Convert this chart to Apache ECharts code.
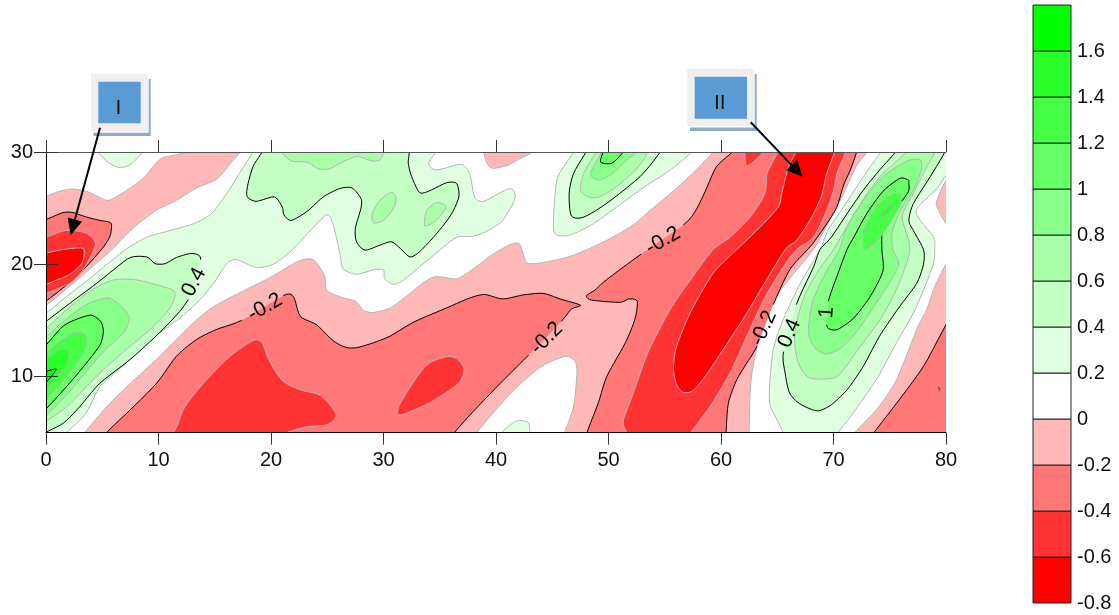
<!DOCTYPE html>
<html>
<head>
<meta charset="utf-8">
<style>html,body{margin:0;padding:0;background:#fff}#c{width:1119px;height:615px}</style>
<script src="https://cdn.jsdelivr.net/npm/echarts@6/dist/echarts.min.js"></script>
</head>
<body>
<div id="c"></div>
<script>
const xTicks = [0,10,20,30,40,50,60,70,80];
const yTicks = [10,20,30];
const barLevels = [-0.8,-0.6,-0.4,-0.2,0,0.2,0.4,0.6,0.8,1,1.2,1.4,1.6,1.8];
const barColors = ['#ff0000','#ff3333','#ff7777','#ffb8b8','#ffffff','#e0ffe0','#c4ffc4','#a8ffa8','#88ff88','#66ff66','#44ff44','#2aff2a','#00ff00'];
const barTicks = [-0.8,-0.6,-0.4,-0.2,0,0.2,0.4,0.6,0.8,1,1.2,1.4,1.6];

// Contour outlines, as [x, y]; null = break in the drawn line (label gap)
const contourN00 = [
 [[-1,26],[0,26.07],[1.2,26.5],[2.4,26.7],[3.6,26.5],[4.7,26],[5.6,25.7],[7.2,26.6],[8.7,27.7],[9.6,28.8],[10.4,29.5],[12.2,29.95],[12.6,31],[18,31],[17.3,30],[16.4,29],[15.2,27.6],[13.4,26.8],[11.6,25.7],[9.8,24.8],[8.2,23.6],[7.2,22.7],[5.84,21.3],[3,18.8],[0,16.3],[-1,15.8]],
 [[3,4],[3.47,5],[5.4,7.3],[7.2,9.1],[9.8,11.5],[12.5,14.2],[14.7,16.1],[17.5,17.6],[19.9,18.8],[22.4,20.25],[23.75,20.4],[24.8,18.9],[24.9,17.7],[26.1,17.1],[27.5,16.7],[28.2,15.9],[29.1,15.7],[30.6,16.1],[32.1,17.2],[33.6,18.4],[34.7,18.9],[36.5,18.7],[38,19.6],[39.8,20.95],[41.4,21.8],[42.1,21.8],[42.5,20.65],[42.9,20.05],[44.5,20.2],[46.9,20.8],[49.8,22.1],[52.2,23.5],[53.7,24.8],[55.5,26.3],[57.5,28.1],[59.3,30],[59.8,31],[73.5,31],[73,30],[72,28.7],[70.9,26.3],[69.8,24.2],[68.2,21.3],[66.4,19.1],[65.1,17.4],[63.8,15.05],[62.9,11.2],[62.6,8.8],[62.5,5],[62.5,4]],
 [[38.7,31],[38.9,30],[39.2,29],[39.7,28.55],[41,28.8],[42.1,29.4],[43.25,30],[44,31]],
 [[71.6,4],[71.9,5],[73.8,7],[75.6,9.7],[77.4,14.2],[78.3,16],[79,18],[80,20],[81,21],[81,4]],
 [[81,28.5],[80,27.5],[79.2,25.7],[79.2,25.1],[80,23.6],[81,22.5]]
];
const holeZero = [
 [[37.5,4],[38.3,5],[39.5,6.46],[41.5,8.7],[43.9,10.8],[46,11.76],[46.9,11.5],[47.2,10.5],[46.9,7.35],[46.1,5],[45.8,4]]
];
const contourN02 = [
 [[-1,24],[0,24],[1.5,24.6],[2.4,24.6],[3.6,24.2],[4.8,23.9],[5.75,23.7],[5.8,23],[5.6,22.3],[5,21.4],[3.6,19.8],[2.4,18.6],[0,16.7],[-1,16]],
 [[5,4],[5.4,5],[7.47,7],[9.84,9.4],[11.6,11.8],[13.4,13.3],[15.2,14.2],[17.4,15],null,[21.1,17.2],[22,17.1],[22.6,15.36],[24.05,14.6],[25.5,13.2],[26.6,12.6],[27.6,12.56],[29.1,13],[30.6,13.6],[32.7,14.85],[35.6,16.1],[37.7,17],[39,17.3],[40.6,16.9],[42.4,17.26],[44.2,17.4],[45.7,16.9],[47.5,16.35],[46.7,16],[45.8,14.9],null,[42.9,11.9],[40.4,9.4],[38,6.9],[36.3,5],[35.5,4]],
 [[48.1,4],[48.1,5],[49.1,7.65],[49.85,10],[51.5,13],[52.35,15.1],[52.55,16.7],[51.8,16.9],[51,16.6],[48.5,16.8],[48.05,17.2],[48.8,17.7],[49.8,18.6],[52.9,20.9],null,[56.65,23.5],[57.7,24.7],[58.6,26.5],[59.6,28.7],[61,30],[61.5,31],[72.3,31],[72.06,30],[71.5,28.4],[70.9,27.05],[70.3,25.1],[69.4,23.6],[68.2,21.9],[67.5,21.1],[66.1,19.5],[64.65,16.4],null,[63.2,12.7],[62.3,11.2],[61.4,9.7],[60.65,7.6],[60.45,5],[60.4,4]],
 [[73,4],[73.6,5],[75.6,7.6],[78,10.9],[80,14.6],[81,16],[81,4]]
];
const contourN04 = [
 [[-1,22.2],[0,22.4],[1.5,22.95],[2.4,23],[3.5,22.8],[4.2,22.3],[4.4,21.7],[4.06,20.9],[3.3,19.5],[2.1,18.3],[0,17.4],[-1,17]],
 [[11.7,4],[11.76,5.83],[12.36,7.3],[14,9.4],[16.36,11.8],[18.4,13.2],[19.2,13],[19.8,11.5],[21,9.64],[22.6,8.8],[24.4,8.3],[25.8,6.6],[25,5.7],[23.2,5.5],[21.4,5],[20,4]],
 [[35.6,11.76],[36.5,11.6],[37.15,10.7],[36.9,9.7],[36.2,9],[34.1,7.65],[31.5,6.55],[31.4,7.4],[33,10],[34.1,11.2]],
 [[51.6,4],[51.6,5],[51.3,6],[52.2,8.5],[53.5,12.1],[55.5,16],[57.5,18.9],[59.3,21.3],[60.8,22.4],[62.6,24.2],[63.9,26.3],[64.1,28.1],[65,29.9],[65.2,31],[71.3,31],[71.1,30],[70.4,28.4],[70,26.6],[69.4,24.8],[68.2,22.4],[66.7,21.3],[65.5,19.7],[63.8,16.85],[62.3,13.6],[60.8,10.3],[59,7.3],[57.3,5],[56.5,4]],
 [[62,31],[62.1,30],[62.3,28.75],[63.5,29.7],[63.6,30],[63.8,31]],
 [[79.2,9.17],[79.6,8.96],[79.35,8.57]]
];
const contourN06 = [
 [[-1,20.9],[0,21],[1.5,21.3],[3.3,21.4],[3.2,20.1],[2.1,19.1],[0.95,18.6],[0,18.2],[-1,17.9]],
 [[55.8,10.3],[56.06,9.25],[56.65,8.57],[57.54,8.75],[58.7,10.15],[60.2,12.4],[62.3,15.65],[63.8,18.2],[65.7,21.3],[66.7,22.1],[67.9,23.9],[68.65,25.4],[69,26.3],[69.4,28.1],[70.1,30],[70.3,31],[66.4,31],[66.65,30],[66,28.7],[65.4,26.3],[65.1,25.1],[63.47,23.3],[61.4,21.3],[59.3,19.2],[57.25,15.65],[56.06,12.7],[55.8,11.2]]
];
const contourP02 = [
 [[-1,15.3],[0,15.65],[1.5,16.85],[3.6,18.5],[6,20.45],[7.2,21.4],[8.95,22.4],[11,23],[13.1,23.6],[14.7,24.5],[16.06,26.3],[17.2,28.1],[18.4,30],[19,31],[34,31],[34,29],[34.7,28.4],[36.8,28.9],[37.5,28.4],[37.8,27.5],[38.1,26],[38.9,25.6],[41.2,26.75],[41.7,25.9],[40.6,23.9],[39.3,23],[38,22.5],[36.5,22.4],[35,21.25],[33.2,19.75],[31.8,18.6],[30.9,18.2],[30.1,18.7],[30,19.5],[29.1,19.5],[27.6,19.1],[26.4,19.6],[26.13,20.95],[25.5,23.6],[24.95,24.4],[23.5,23],[21.7,21.1],[20.2,20],[18.7,19.7],[16.95,20.4],[16.06,20.05],[14.9,18.3],[13.7,16.85],[11.9,15.2],[10.1,13.9],[8.36,12.4],[6.3,10.45],[4.8,9.1],[3.47,6.6],[1.84,5],[1.2,4],[-1,4]],
 [[4.4,31],[4.65,30],[5.5,29.1],[6.5,28.6],[7.5,28.9],[8.5,29.9],[8.8,31]],
 [[40,4],[40.5,5],[41.5,5.86],[42.1,6.07],[42.9,5.86],[43,5],[43,4]],
 [[47.2,31],[46.9,30],[45.5,27.8],[45.2,25.6],[45.1,23.3],[45.4,22.6],[46.6,22.6],[48.65,23.6],[51,25.3],[53.2,26.9],[55.5,28.4],[57.4,30],[58,31]],
 [[65.5,4],[65.5,5],[65,6.1],[64.4,7.3],[64.3,8.8],[64.65,12.4],[65.5,15],[67,18.2],[68.8,21.3],[69.5,23],[70.9,25.1],[72.65,27.8],[74.2,30],[74.6,31],[81,31],[81,29],[80,27.9],[79.2,26.75],[77.5,25.1],[77.5,24.2],[78.9,22.4],[79,21.3],[78.9,20.1],[78,17.7],[77.1,15.65],[75.6,13],[73.8,9.7],[71.5,6.4],[70.4,5],[69.8,4]]
];
const contourP04 = [
 [[-1,14.2],[0,14.9],[2.1,16.5],[4.5,18.3],[6,19.5],[7.5,20.6],[8.95,20.65],[9.7,20.05],[10.6,20.05],[11.6,20.6],[12.97,20.95],[13.75,20.4],null,[12.65,16.85],[10.4,14.2],[7.47,11.5],[4.8,9.4],[3,7.3],[1.54,5.83],[0,5],[-1,4]],
 [[19.4,31],[19.2,30],[18.4,28.7],[17.9,26.9],[17.9,26],[18.7,25.6],[20.3,26],[21,25.1],[21.15,24.4],[21.8,23.9],[23.2,24.7],[24.65,26],[26.13,26.75],[27.2,26.8],[28,25.85],[28,25],[27.5,23.2],[27.6,22],[28.35,21.25],[29.7,21.7],[30.7,22],[31.5,21.4],[32.35,20.65],[33.2,21.1],[34.7,22.7],[36,24.4],[36.7,26],[36.5,27.2],[35.6,27.26],[34,26.5],[33.2,26.4],[32.5,27.8],[32.2,29],[32.3,30],[32.3,31]],
 [[48.5,31],[48,30],[46.9,28.1],[46.5,26.3],[46.7,24.3],[47.8,24.2],[49.8,25.4],[52.8,27.8],[54.6,30],[55,31]],
 [[65.55,12.2],[65.7,10.3],[66.1,8.5],[67,7.56],[68.2,7],[68.8,6.96],[69.8,7.47],[71.2,8.8],[72.65,10.9],[74.1,13.6],[75.9,16.25],[77.4,18.3],[78,20],[78,21.3],[77.1,23],[76.7,23.9],[77.1,25.4],[78.6,27.8],[79.9,30],[80.1,31],[75.8,31],[75.5,30],[74.1,28.4],[72.65,26.6],[71.2,24.5],[69.8,22.4],[68.8,21.3],[68.2,19.7],[66.7,16.4],null]
];
const contourP06 = [
 [[-1,13.5],[0,14.25],[1.84,15.95],[3.9,17.6],[6,18.6],[8.06,18.6],[10.4,18],[11.4,17.6],[11.4,16.85],[10.7,15.65],[8.95,13.9],[6.9,12.2],[5.1,10.6],[3.6,9.1],[1.84,7.3],[0,6],[-1,5.3]],
 [[20.7,31],[20.95,30],[21.8,29.2],[23.2,29.1],[24.2,28.5],[25.2,28.5],[26.13,29],[27.6,29.6],[29,29.2],[29.7,29.3],[30,29.9],[30.1,30],[30.3,31]],
 [[30.7,26.4],[31.1,25.9],[30.9,25],[30,23.9],[29.1,23.7],[29,24.5],[29.7,25.7]],
 [[34.8,25.5],[35.55,25.1],[34.7,23.9],[33.7,23.4],[33.7,24.3],[34,25]],
 [[49.2,31],[48.9,30],[47.8,28.1],[47.5,26.6],[48.2,26],[49.2,26],[50.7,26.9],[52.5,28.5],[53.5,30],[53.8,31]],
 [[66.6,12.4],[67,10.9],[67.9,9.85],[70,9.85],[70.9,10.6],[72.4,12.7],[74.1,15],[75.6,17.75],[76.8,21.3],[76.1,24.2],[77.1,26.3],[78,28.1],[79,30],[79.3,31],[76.7,31],[76.5,30],[74.4,28.1],[73,26.3],[71.5,23.9],[70,21.3],[68.5,19.2],[67.3,16.85],[66.6,14.2]]
];
const contourP08 = [
 [[-1,12.8],[0,13.5],[1.54,14.9],[3.6,16.4],[5.5,17],[6.7,16.25],[7.4,15.2],[6.9,13.9],[5.1,12.2],[3.6,10.45],[2.1,8.66],[0,6.5],[-1,5.8]],
 [[49.4,31],[49.4,30],[48.5,28.4],[48.5,27.8],[49.2,27.5],[50.4,28.1],[51.6,29.3],[52.5,30],[52.8,31]],
 [[67.8,14.5],[67.9,13.3],[68.5,12.4],[69.4,12],[70.6,12.5],[72,13.9],[73.8,16.55],[75.3,18.9],[75.8,20.1],[75.3,21.25],[75.2,22.7],[75.8,24.5],[77.1,26.6],[77.8,28.4],[77.7,29.3],[76.5,29.2],[74.4,27.8],[72.65,25.7],[71.2,23.3],[70.5,21.25],[69.4,19.4],[68.2,16.85]]
];
const contourP10 = [
 [[-1,12],[0,12.8],[1.54,14.5],[3,15.2],[4.06,15.45],[4.86,14.9],[5.1,14],[4.8,12.8],[3.6,11.2],[2.1,9.4],[0,7.1],[-1,6.3]],
 [[49.6,31],[49.5,30],[49.3,29.1],[50.3,29],[51.3,30],[51.6,31]],
 [[76.65,27.5],[75.9,27.65],[74.4,26.5],[72.95,24.5],[71.8,22.4],[71.2,21.3],[70.3,18.9],[69.55,16.7],null,[69.4,14.6],[69.7,14.2],[70.4,14.2],[71.8,15.2],[73.25,17.1],[74.4,19.4],[74.3,21.3],[74.4,23.3],[75.6,25],[76.65,26.45],[76.7,27.2]]
];
const contourP12 = [
 [[-1,11.4],[0,12.1],[1.54,13.3],[2.6,13.9],[3.5,13.7],[3.5,12.5],[2.7,11.2],[1.54,9.7],[0,7.9],[-1,7.2]],
 [[75.9,26.25],[75.2,26.2],[73.8,25.1],[72.8,23.3],[72.65,22.1],[72.8,21.25],[74.1,22.35],[75.3,24.2],[76,25.4]]
];
const contourP14 = [
 [[-1,11],[0,11.6],[1.24,12.4],[2,12.2],[2,11.3],[1.24,10.3],[0,8.8],[-1,8.1]],
 [[75.3,25.4],[74.9,25.2],[74.3,24.4],[74.35,24.2],[74.9,24.5],[75.3,25.1]]
];
const contourP16 = [
 [[-1,10.2],[0,10.45],[0.9,10.65],[0.36,9.85],[0,9.5],[-1,8.9]]
];
// Contour labels: x, y, text, rotation in degrees
const contourLabels = [
 [13.16,18.4,'0.4',62],[19.47,16.16,'-0.2',30],[44.5,13.4,'-0.2',45],[54.85,22.1,'-0.2',30],
 [63.8,14.3,'-0.2',66],[66.1,13.85,'0.4',66],[69.4,15.7,'1',85]
];
const BLACK='#000', GRAY='#b4b4b4';
const layers = [
 [contourN00,'#ffb8b8',GRAY],[holeZero,'#ffffff',GRAY],[contourN02,'#ff7777',BLACK],[contourN04,'#ff3333',GRAY],[contourN06,'#ff0000',GRAY],
 [contourP02,'#e0ffe0',GRAY],[contourP04,'#c4ffc4',BLACK],[contourP06,'#a8ffa8',GRAY],[contourP08,'#88ff88',GRAY],
 [contourP10,'#66ff66',BLACK],[contourP12,'#44ff44',GRAY],[contourP14,'#2aff2a',GRAY],[contourP16,'#00ff00',BLACK]
];
const polys = [];
layers.forEach(l=>l[0].forEach(p=>polys.push({pts:p,fill:l[1],stroke:l[2]})));

const FONT='"Liberation Sans", Arial, sans-serif';
// Rounds the corners of a read-off outline (curve passes through every read point)
function renderContour(params, api){
  const c = polys[params.dataIndex];
  const P=[], gap=[];
  c.pts.forEach(p=>{ if(p===null){ gap[P.length-1]=true; } else P.push(api.coord(p)); });
  const n=P.length, K=0.38, STEPS=5;
  const dense=[]; const runs=[[]];
  for(let i=0;i<n;i++){
    const p0=P[(i-1+n)%n],p1=P[i],p2=P[(i+1)%n],p3=P[(i+2)%n];
    const m1=[K*(p2[0]-p0[0]),K*(p2[1]-p0[1])],m2=[K*(p3[0]-p1[0]),K*(p3[1]-p1[1])];
    for(let s=0;s<STEPS;s++){
      const t=s/STEPS,t2=t*t,t3=t2*t;
      const h1=2*t3-3*t2+1,h2=t3-2*t2+t,h3=-2*t3+3*t2,h4=t3-t2;
      const q=[h1*p1[0]+h2*m1[0]+h3*p2[0]+h4*m2[0],h1*p1[1]+h2*m1[1]+h3*p2[1]+h4*m2[1]];
      dense.push(q);
      if(!gap[i]) runs[runs.length-1].push(q);
    }
    if(gap[i]){ runs[runs.length-1].push(p1); runs.push([]); }
    else if(i===n-1) runs[runs.length-1].push(p2);
  }
  const children = [{type:'polygon',shape:{points:dense},style:{fill:c.fill,stroke:null}}];
  runs.forEach(r=>{ if(r.length>1) children.push({type:'polyline',shape:{points:r},style:{fill:null,stroke:c.stroke,lineWidth:1}}); });
  return {type:'group',children};
}
function renderBar(params, api){
  const i=params.dataIndex;
  const a=api.coord([0,barLevels[i+1]]), b=api.coord([1,barLevels[i]]);
  return {type:'rect',shape:{x:a[0],y:a[1],width:b[0]-a[0],height:b[1]-a[1]},style:{fill:barColors[i],stroke:'#222',lineWidth:1}};
}
function renderLabel(params, api){
  const l=contourLabels[params.dataIndex];
  const p=api.coord([l[0],l[1]]);
  return {type:'text',x:p[0],y:p[1],rotation:l[3]*Math.PI/180,
    style:{text:l[2],fill:'#000',font:'21px '+FONT,textAlign:'center',textVerticalAlign:'middle'}};
}

// Annotation boxes and arrows (outer, shadow, inner rectangles in page pixels)
const annotationBoxes = [
 {text:'I', outer:[91,74,57,57], shadow:[93.5,79,57.2,57], inner:[98.3,81.7,42.4,41.6]},
 {text:'II',outer:[687,69,67,56.7], shadow:[690,74,66.7,57], inner:[694.7,76.7,52.3,42]}
];
const annotationArrows = [[100,127.7,70.7,235],[750.7,122.3,802.7,176.7]];
const graphics=[];
annotationBoxes.forEach(b=>{
  const rect=(r,fill)=>({type:'rect',z:50,shape:{x:r[0],y:r[1],width:r[2],height:r[3]},style:{fill}});
  graphics.push(rect(b.shadow,'#93a9c9'),rect([b.outer[0],b.outer[1],b.outer[2]+0.7,b.outer[3]+1.7],'#ffffff'),rect(b.outer,'#f0f0f0'),rect(b.inner,'#5b9bd5'));
  graphics.push({type:'text',z:51,x:b.inner[0]+b.inner[2]/2-1,y:b.inner[1]+b.inner[3]/2+6,style:{text:b.text,fill:'#111',font:'21px '+FONT,textAlign:'center',textVerticalAlign:'middle'}});
});
annotationArrows.forEach(a=>{
  const dx=a[2]-a[0],dy=a[3]-a[1],n=Math.hypot(dx,dy),ux=dx/n,uy=dy/n,L=16,W=7.5;
  const bx=a[2]-ux*L,by=a[3]-uy*L;
  graphics.push({type:'line',z:52,shape:{x1:a[0],y1:a[1],x2:bx,y2:by},style:{stroke:'#000',lineWidth:2}});
  graphics.push({type:'polygon',z:52,shape:{points:[[a[2],a[3]],[bx-uy*W,by+ux*W],[bx+uy*W,by-ux*W]]},style:{fill:'#000'}});
});

const chart = echarts.init(document.getElementById('c'),null,{renderer:'canvas'});
const lineS={color:'#333',width:1};
const labelS={fontFamily:FONT,fontSize:20,color:'#111'};
chart.setOption({
  animation:false,
  backgroundColor:'#fff',
  graphic:graphics,
  grid:[
    {left:46,top:152,width:900,height:280.5},
    {left:1033,top:5,width:38,height:598}
  ],
  xAxis:[
    {gridIndex:0,type:'value',position:'bottom',min:0,max:80,interval:10,z:10,splitLine:{show:false},
     axisLine:{lineStyle:{color:'#000',width:1}},axisTick:{length:12,lineStyle:lineS},axisLabel:Object.assign({margin:18,customValues:xTicks,showMinLabel:true,showMaxLabel:true},labelS)},
    {gridIndex:0,type:'value',position:'top',min:0,max:80,interval:10,z:10,splitLine:{show:false},
     axisLine:{show:true,lineStyle:{color:'#555',width:1}},axisTick:{show:true,length:12,lineStyle:lineS},axisLabel:{show:false}},
    {gridIndex:1,type:'value',min:0,max:1,show:false}
  ],
  yAxis:[
    {gridIndex:0,type:'value',position:'left',min:5,max:30,z:10,splitLine:{show:false},
     axisLine:{show:true,lineStyle:{color:'#555',width:1}},axisTick:{show:true,length:12,lineStyle:lineS,customValues:yTicks},axisLabel:Object.assign({margin:13,customValues:yTicks},labelS)},
    {gridIndex:0,type:'value',position:'right',min:5,max:30,z:10,splitLine:{show:false},
     axisLine:{show:true,lineStyle:{color:'#000',width:1}},axisTick:{show:true,length:12,lineStyle:lineS,customValues:yTicks},axisLabel:{show:false}},
    {gridIndex:1,type:'value',position:'right',min:-0.8,max:1.8,splitLine:{show:false},
     axisLine:{show:false},axisTick:{show:false},
     axisLabel:Object.assign({margin:6,customValues:barTicks,hideOverlap:false,padding:[9,0,0,0],formatter:v=>String(Number(v.toFixed(1)))},labelS)}
  ],
  series:[
    {type:'custom',name:'contours',xAxisIndex:0,yAxisIndex:0,clip:true,silent:true,z:2,renderItem:renderContour,data:polys.map((_,i)=>[i%80,10])},
    {type:'custom',name:'labels',xAxisIndex:0,yAxisIndex:0,clip:false,silent:true,z:3,renderItem:renderLabel,data:contourLabels.map(l=>[l[0],l[1]])},
    {type:'custom',name:'colorbar',xAxisIndex:2,yAxisIndex:2,clip:false,silent:true,z:2,renderItem:renderBar,data:barColors.map((_,i)=>[0.5,barLevels[i]])}
  ]
});
</script>
</body>
</html>
